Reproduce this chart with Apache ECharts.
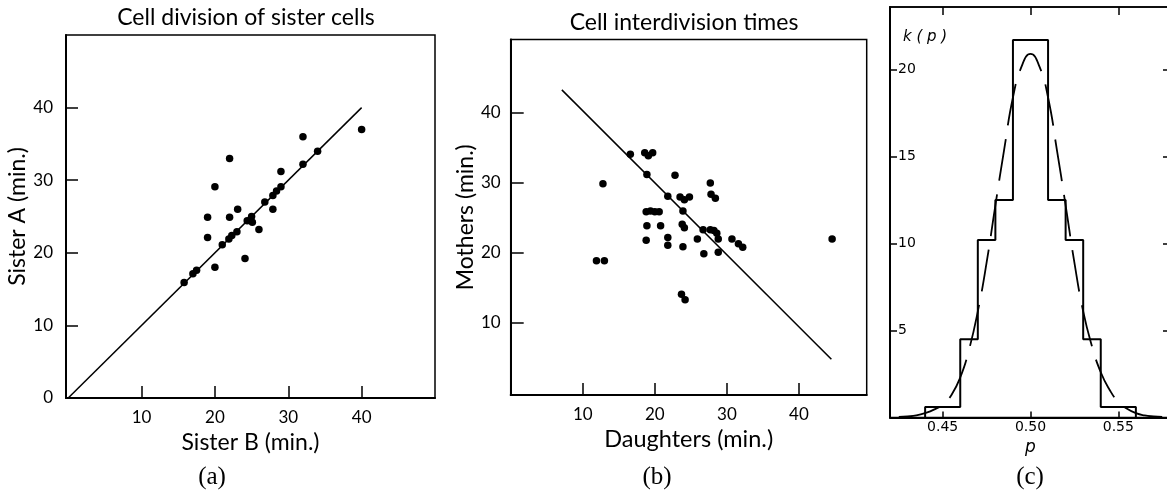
<!DOCTYPE html>
<html><head><meta charset="utf-8">
<script src="https://cdn.jsdelivr.net/npm/echarts@6/dist/echarts.min.js"></script>
<style>html,body{margin:0;padding:0;background:#fff}#c{width:1167px;height:500px}</style>
</head><body><div id="c"></div>
<script>
// ---- Panel (a): Cell division of sister cells ----
const sisterB = [40,32,34,32,22,29,20,29,28.4,27.9,26.8,27.9,23.1,19,22,25,24.4,25.1,26,23,22.3,19,21.9,21,20,24.1,17.5,17,15.8];
const sisterA = [37,36,34,32.2,33,31.2,29.1,29.1,28.5,27.9,27,26,26,24.9,24.9,25,24.4,24.2,23.2,22.9,22.4,22.1,21.9,21.1,18,19.2,17.6,17.1,15.9];
const fitA_x = [0, 40];
const fitA_y = [0, 40];
const ticksA_x = [10, 20, 30, 40];
const labelsA_y = [0, 10, 20, 30, 40];
const ticksA_y = [10, 20, 30, 40];

// ---- Panel (b): Cell interdivision times ----
const daughters = [16.6,18.6,19.1,19.7,12.8,18.9,22.8,27.7,21.8,23.5,24.1,24.8,27.8,28.4,18.8,19.4,20.0,20.6,23.9,18.9,20.8,23.8,24.1,26.7,27.7,28.2,28.6,28.8,18.8,21.8,21.8,23.9,25.9,26.8,28.8,30.7,31.6,32.2,11.9,13.0,23.7,24.2,44.6];
const mothers   = [34.1,34.3,33.9,34.3,29.9,31.2,31.1,30.0,28.1,28.0,27.6,28.0,28.4,27.8,25.9,26.0,25.9,25.9,26.0,23.9,23.9,24.1,23.6,23.3,23.3,23.2,22.8,22.0,21.8,22.2,21.1,20.9,22.0,19.9,20.1,22.0,21.3,20.8,18.9,18.9,14.1,13.3,22.0];
const fitB_x = [7.1, 44.5];
const fitB_y = [43.3, 4.8];
const ticksB_x = [10, 20, 30, 40];
const ticksB_y = [10, 20, 30, 40];

// ---- Panel (c): k(p) histogram and fitted curve ----
const histEdges   = [0.44, 0.46, 0.47, 0.48, 0.49, 0.51, 0.52, 0.53, 0.54, 0.56];
const histHeights = [0.6, 4.5, 10.2, 12.5, 21.7, 12.5, 10.2, 4.5, 0.6];
const curveP = [0.425,0.43,0.435,0.44,0.445,0.45,0.455,0.46,0.465,0.47,0.475,0.48,0.485,0.49,0.495,0.5,0.505,0.51,0.515,0.52,0.525,0.53,0.535,0.54,0.545,0.55,0.555,0.56,0.565,0.57,0.575];
const curveK = [0.03,0.06,0.12,0.25,0.45,0.75,1.3,2.3,3.9,6.1,8.9,12.2,15.4,18.4,20.2,20.9,20.2,18.4,15.4,12.2,8.9,6.1,4.1,2.6,1.6,0.9,0.5,0.25,0.12,0.06,0.03];
const ticksC_x = [0.45, 0.50, 0.55];
const ticksC_y = [5, 10, 15, 20];

const SANS = 'Lato, "Open Sans", sans-serif';
const HELV = '"DejaVu Sans", sans-serif';
const SERIF = '"Liberation Serif", "DejaVu Serif", serif';

const zip = (a, b) => a.map((v, i) => [v, b[i]]);
const histPts = [[histEdges[0], 0]];
histHeights.forEach((h, i) => { histPts.push([histEdges[i], h]); histPts.push([histEdges[i + 1], h]); });
histPts.push([histEdges[histEdges.length - 1], 0]);

const axisLine = { show: true, onZero: false, lineStyle: { color: '#000', width: 2 } };
const labelStyle = (size, fam) => ({ color: '#000', fontSize: size, fontFamily: fam });

const chart = echarts.init(document.getElementById('c'), null, { renderer: 'canvas' });
chart.setOption({
  animation: false,
  backgroundColor: '#fff',
  grid: [
    { left: 66, top: 35, width: 369, height: 363, show: true, borderColor: '#000', borderWidth: 1.5, containLabel: false, outerBoundsMode: 'none' },
    { left: 510.7, top: 39.5, width: 356, height: 355.5, show: true, borderColor: '#000', borderWidth: 1.5, containLabel: false, outerBoundsMode: 'none' },
    { left: 890, top: 7, width: 281, height: 410.5, show: true, borderColor: '#000', borderWidth: 1.5, containLabel: false, outerBoundsMode: 'none' }
  ],
  xAxis: [
    { gridIndex: 0, type: 'value', min: -0.3, max: 50, axisLine,
      axisTick: { customValues: ticksA_x, inside: true, length: 12, lineStyle: { color: '#000', width: 1.5 } },
      axisLabel: Object.assign({ customValues: ticksA_x, margin: 11 }, labelStyle(17, SANS)),
      splitLine: { show: false },
      name: 'Sister B (min.)', nameLocation: 'middle', nameGap: 30, nameTextStyle: labelStyle(23, SANS) },
    { gridIndex: 1, type: 'value', min: 0, max: 49.4, axisLine,
      axisTick: { customValues: ticksB_x, inside: true, length: 12, lineStyle: { color: '#000', width: 1.5 } },
      axisLabel: Object.assign({ customValues: ticksB_x, margin: 11 }, labelStyle(17, SANS)),
      splitLine: { show: false },
      name: 'Daughters (min.)', nameLocation: 'middle', nameGap: 28, nameTextStyle: labelStyle(23.5, SANS) },
    { gridIndex: 2, type: 'value', min: 0.42, max: 0.58, axisLine,
      axisTick: { customValues: ticksC_x, inside: true, length: 6, lineStyle: { color: '#000', width: 1.5 } },
      axisLabel: Object.assign({ customValues: ticksC_x, margin: 3, formatter: v => v.toFixed(2) }, labelStyle(14, HELV)),
      splitLine: { show: false },
      name: 'p', nameLocation: 'middle', nameGap: 17, nameTextStyle: Object.assign({ fontStyle: 'italic' }, labelStyle(17, HELV)) },
    { gridIndex: 2, type: 'value', position: 'top', min: 0.42, max: 0.58,
      axisLine: { show: true, onZero: false, lineStyle: { color: '#000', width: 1.5 } },
      axisTick: { customValues: ticksC_x, inside: true, length: 8, lineStyle: { color: '#000', width: 1.5 } },
      axisLabel: { show: false }, splitLine: { show: false } }
  ],
  yAxis: [
    { gridIndex: 0, type: 'value', min: 0, max: 50, axisLine,
      axisTick: { customValues: ticksA_y, inside: true, length: 12, lineStyle: { color: '#000', width: 1.5 } },
      axisLabel: Object.assign({ customValues: labelsA_y, margin: 13 }, labelStyle(17, SANS)),
      splitLine: { show: false },
      name: 'Sister A (min.)', nameLocation: 'middle', nameGap: 35, nameTextStyle: labelStyle(23, SANS) },
    { gridIndex: 1, type: 'value', min: -0.3, max: 50.5, axisLine,
      axisTick: { customValues: ticksB_y, inside: true, length: 13, lineStyle: { color: '#000', width: 1.5 } },
      axisLabel: Object.assign({ customValues: ticksB_y, margin: 10 }, labelStyle(17, SANS)),
      splitLine: { show: false },
      name: 'Mothers (min.)', nameLocation: 'middle', nameGap: 34, nameTextStyle: labelStyle(23, SANS) },
    { gridIndex: 2, type: 'value', min: 0, max: 23.6, axisLine,
      axisTick: { customValues: ticksC_y, inside: true, length: 7, lineStyle: { color: '#000', width: 1.5 } },
      axisLabel: Object.assign({ customValues: ticksC_y, inside: true, margin: 8 }, labelStyle(14, HELV)),
      splitLine: { show: false } },
    { gridIndex: 2, type: 'value', position: 'right', min: 0, max: 23.6,
      axisLine: { show: true, onZero: false, lineStyle: { color: '#000', width: 1.5 } },
      axisTick: { customValues: ticksC_y, inside: true, length: 8, lineStyle: { color: '#000', width: 1.5 } },
      axisLabel: { show: false }, splitLine: { show: false } }
  ],
  series: [
    { type: 'line', xAxisIndex: 0, yAxisIndex: 0, data: zip(fitA_x, fitA_y), showSymbol: false, silent: true,
      lineStyle: { color: '#000', width: 1.5 } },
    { type: 'scatter', xAxisIndex: 0, yAxisIndex: 0, data: zip(sisterB, sisterA), symbolSize: 7.5,
      itemStyle: { color: '#000', opacity: 1 } },
    { type: 'line', xAxisIndex: 1, yAxisIndex: 1, data: zip(fitB_x, fitB_y), showSymbol: false, silent: true,
      lineStyle: { color: '#000', width: 1.5 } },
    { type: 'scatter', xAxisIndex: 1, yAxisIndex: 1, data: zip(daughters, mothers), symbolSize: 7.5,
      itemStyle: { color: '#000', opacity: 1 } },
    { type: 'line', xAxisIndex: 2, yAxisIndex: 2, data: histPts, showSymbol: false, silent: true,
      lineStyle: { color: '#000', width: 2 } },
    { type: 'line', xAxisIndex: 2, yAxisIndex: 2, data: zip(curveP, curveK), showSymbol: false, silent: true, smooth: true,
      lineStyle: { color: '#000', width: 1.8, type: [42, 14] } }
  ],
  graphic: [
    { type: 'text', x: 246, y: 18, style: { text: 'Cell division of sister cells', textAlign: 'center', textVerticalAlign: 'middle', font: '23px ' + SANS, fill: '#000' } },
    { type: 'text', x: 684, y: 23, style: { text: 'Cell interdivision times', textAlign: 'center', textVerticalAlign: 'middle', font: '23px ' + SANS, fill: '#000' } },
    { type: 'text', x: 903, y: 37, style: { text: 'k ( p )', textAlign: 'left', textVerticalAlign: 'middle', font: 'italic 15px ' + HELV, fill: '#000' } },
    { type: 'text', x: 212, y: 477, style: { text: '(a)', textAlign: 'center', textVerticalAlign: 'middle', font: '25px ' + SERIF, fill: '#000' } },
    { type: 'text', x: 657, y: 477, style: { text: '(b)', textAlign: 'center', textVerticalAlign: 'middle', font: '25px ' + SERIF, fill: '#000' } },
    { type: 'text', x: 1030, y: 477, style: { text: '(c)', textAlign: 'center', textVerticalAlign: 'middle', font: '25px ' + SERIF, fill: '#000' } }
  ]
});
</script></body></html>
